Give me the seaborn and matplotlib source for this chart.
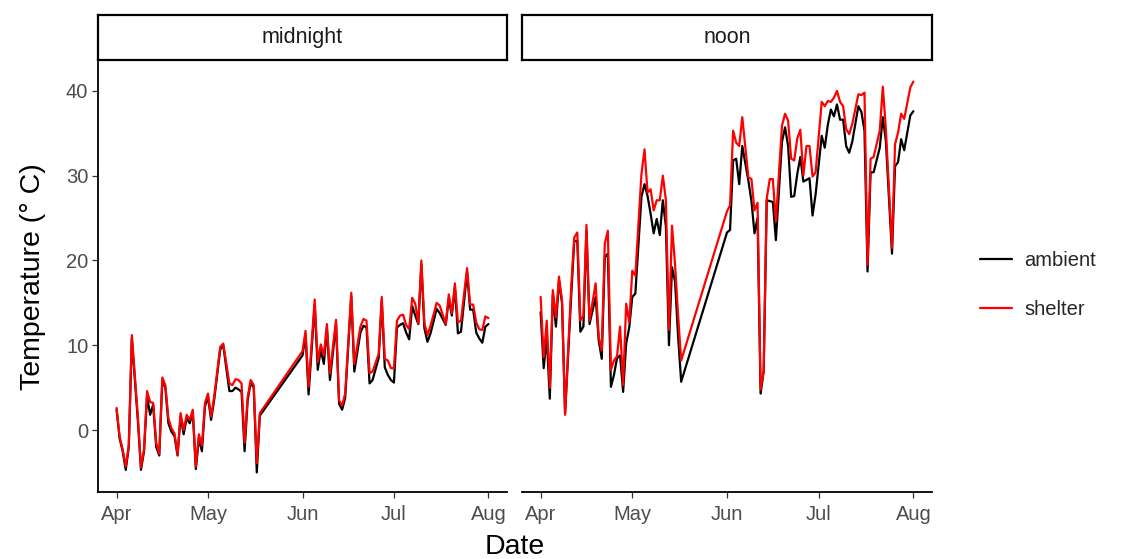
import numpy as np
import pandas as pd
import matplotlib
matplotlib.use("Agg")
import matplotlib.pyplot as plt
import seaborn as sns
from matplotlib.lines import Line2D

# ---------------- data (day offsets from 1 April) ----------------
mid_days = ([0, 1, 2, 3, 4, 5] + list(range(7, 33)) + [34, 35] + list(range(37, 48))
            + [61, 62, 63] + list(range(65, 71)) + [72, 73, 74, 75] + [77, 78]
            + list(range(80, 85)) + list(range(86, 107)) + list(range(108, 114))
            + list(range(115, 123)))
mid_ambient = [2.4, -1.0, -2.5, -4.7, -2.0, 10.8,
               1.0, -4.7, -2.5, 4.0, 1.8, 3.0, -2.0, -3.0, 5.8, 5.0, 0.8, -0.2, -0.7, -3.0,
               1.6, -0.5, 1.4, 0.8, 2.1, -4.6, -1.0, -2.5, 2.8, 3.9, 1.2, 3.5,
               9.5, 10.0,
               4.6, 4.6, 5.0, 4.8, 4.5, -2.5, 3.5, 5.6, 5.0, -5.0, 1.7,
               8.8, 11.2, 4.2,
               14.8, 7.1, 9.5, 7.8, 12.0, 5.9,
               12.5, 3.1, 2.4, 3.8,
               15.8, 6.9,
               11.5, 12.3, 12.1, 5.5, 5.9,
               8.5, 15.2, 7.4, 6.5, 5.9, 5.6, 12.1, 12.4, 12.6, 11.5, 10.7, 14.6, 13.5, 12.5,
               19.5, 12.0, 10.4, 11.4, 12.8, 14.3, 13.8,
               12.4, 15.5, 13.5, 16.8, 11.4, 11.6,
               18.6, 14.2, 14.2, 11.5, 10.8, 10.3, 12.2, 12.5]
mid_shelter = [2.6, -0.8, -2.3, -4.3, -1.8, 11.2,
               1.5, -4.4, -2.3, 4.6, 3.3, 3.2, -1.5, -2.8, 6.2, 5.3, 1.4, 0.2, -0.4, -2.9,
               2.0, 0.0, 1.8, 1.2, 2.4, -4.3, -0.5, -1.8, 3.2, 4.3, 1.6, 3.9,
               9.8, 10.2,
               5.5, 5.3, 6.0, 5.9, 5.5, -1.5, 3.9, 5.9, 5.3, -3.9, 2.0,
               9.3, 11.7, 5.1,
               15.4, 8.0, 10.1, 8.8, 12.5, 6.7,
               13.0, 3.5, 2.9, 4.3,
               16.2, 7.8,
               12.2, 13.1, 12.9, 6.7, 6.9,
               9.0, 15.7, 8.4, 8.2, 7.3, 7.3, 12.9, 13.5, 13.6, 12.4, 11.9, 15.6, 14.9, 12.6,
               20.0, 12.6, 11.2, 12.3, 13.6, 15.0, 14.7,
               12.5, 16.0, 13.8, 17.3, 12.7, 12.9,
               19.1, 14.8, 14.8, 12.7, 11.9, 11.8, 13.4, 13.2]

noon_days = (list(range(0, 9)) + list(range(10, 17)) + list(range(18, 32))
             + list(range(33, 47)) + list(range(61, 67)) + list(range(68, 78))
             + list(range(79, 91)) + list(range(92, 103)) + list(range(104, 110))
             + [111, 112, 113] + list(range(115, 120)) + [121, 122])
noon_ambient = [13.9, 7.3, 11.0, 3.7, 16.0, 12.2, 17.6, 15.0, 2.0,
                15.8, 22.3, 22.3, 11.6, 12.2, 23.5, 12.5,
                15.7, 10.6, 8.4, 20.4, 20.8, 5.1, 6.5, 8.5, 8.8, 4.5, 10.2, 12.1, 15.7, 16.1,
                27.5, 29.0, 27.6, 25.5, 23.2, 24.9, 23.0, 27.1, 24.0, 10.0, 19.2, 17.5, 11.0, 5.7,
                23.3, 23.6, 31.8, 32.0, 29.0, 33.5,
                29.4, 27.0, 23.2, 25.0, 4.3, 6.9, 27.1, 27.0, 26.9, 22.4,
                34.0, 35.7, 33.5, 27.5, 27.6, 30.2, 32.2, 29.3, 29.5, 29.7, 25.3, 27.8,
                34.7, 33.3, 36.0, 37.8, 37.0, 38.4, 36.6, 36.6, 33.5, 32.7, 34.0,
                38.2, 37.5, 35.3, 18.7, 30.4, 30.4,
                33.3, 36.9, 34.1,
                20.8, 31.1, 31.6, 34.3, 33.0,
                37.1, 37.6]
noon_shelter = [15.7, 8.6, 12.9, 5.0, 16.5, 13.3, 18.1, 15.3, 1.8,
                16.9, 22.7, 23.3, 12.9, 13.5, 24.2, 12.9,
                17.3, 11.0, 9.4, 22.0, 23.5, 7.1, 8.2, 8.7, 12.2, 5.3, 14.9, 12.7, 18.8, 18.2,
                30.2, 33.1, 28.0, 28.4, 25.9, 27.1, 27.1, 30.0, 27.1, 11.8, 24.1, 19.5, 13.5, 8.2,
                25.8, 26.5, 35.3, 33.9, 33.5, 36.9,
                29.8, 29.6, 25.9, 26.8, 4.8, 7.0, 27.3, 29.6, 29.6, 24.6,
                35.9, 37.3, 36.5, 32.0, 31.8, 34.4, 35.4, 30.0, 33.5, 33.5, 29.9, 30.4,
                38.7, 38.2, 38.8, 38.7, 39.2, 40.0, 38.7, 38.2, 35.5, 34.9, 36.1,
                39.6, 39.5, 39.8, 19.5, 32.0, 32.2,
                35.3, 40.5, 35.5,
                21.5, 33.7, 35.1, 37.3, 36.7,
                40.4, 41.1]

panels = ["midnight", "noon"]
treatments = ["ambient", "shelter"]
month_ticks = ["2019-04-01", "2019-05-01", "2019-06-01", "2019-07-01", "2019-08-01"]
month_labels = ["Apr", "May", "Jun", "Jul", "Aug"]
y_ticks = [0, 10, 20, 30, 40]

# ---------------- build long table ----------------
start = pd.Timestamp("2019-04-01")
rows = []
for panel, days, amb, shel in [("midnight", mid_days, mid_ambient, mid_shelter),
                               ("noon", noon_days, noon_ambient, noon_shelter)]:
    assert len(days) == len(amb) == len(shel)
    for d, a, s in zip(days, amb, shel):
        rows.append((panel, start + pd.Timedelta(days=d), "ambient", a))
        rows.append((panel, start + pd.Timedelta(days=d), "shelter", s))
df = pd.DataFrame(rows, columns=["time", "Date", "treatment", "temp"])

# ---------------- style ----------------
sns.set_style("white")
plt.rcParams["font.family"] = ["Liberation Sans", "DejaVu Sans"]
palette = {"ambient": "black", "shelter": "#FF0000"}

W, H = 1124, 559
fig = plt.figure(figsize=(W / 100, H / 100), dpi=100)

def fx(px):
    return px / W

def fy(px):
    return 1 - px / H

panel_x = [(98, 507), (522, 932)]
top_px, bot_px = 62, 492
strip_top, strip_bot = 15, 60

ymin, ymax = df["temp"].min(), df["temp"].max()
yr = ymax - ymin
ylim = (ymin - 0.05 * yr, ymax + 0.05 * yr)
xmin, xmax = df["Date"].min(), df["Date"].max()
xr = xmax - xmin
xlim = (xmin - 0.05 * xr, xmax + 0.05 * xr)

tick_color = "#333333"
label_color = "#4D4D4D"
tick_fs = 14.5

for i, panel in enumerate(panels):
    x0, x1 = panel_x[i]
    ax = fig.add_axes([fx(x0), fy(bot_px), fx(x1 - x0), (bot_px - top_px) / H])
    sub = df[df["time"] == panel]
    sns.lineplot(data=sub, x="Date", y="temp", hue="treatment", hue_order=treatments,
                 palette=palette, estimator=None, linewidth=1.6, legend=False, ax=ax)
    ax.set_xlim(xlim)
    ax.set_ylim(ylim)
    ax.set_xticks(pd.to_datetime(month_ticks))
    ax.set_xticklabels(month_labels)
    ax.set_xlabel("")
    ax.set_ylabel("")
    ax.set_facecolor("white")
    for s in ["top", "right"]:
        ax.spines[s].set_visible(False)
    ax.spines["bottom"].set_linewidth(1.3)
    ax.spines["bottom"].set_color("black")
    ax.tick_params(axis="x", length=4, width=0.9, color=tick_color,
                   labelsize=tick_fs, labelcolor=label_color, pad=5, bottom=True)
    if i == 0:
        ax.set_yticks(y_ticks)
        ax.spines["left"].set_linewidth(1.3)
        ax.spines["left"].set_color("black")
        ax.tick_params(axis="y", length=4, width=0.9, color=tick_color,
                       labelsize=tick_fs, labelcolor=label_color, pad=3, left=True)
    else:
        ax.spines["left"].set_visible(False)
        ax.set_yticks(y_ticks)
        ax.tick_params(axis="y", left=False, labelleft=False)
    ax.grid(False)

    # strip
    sax = fig.add_axes([fx(x0), fy(strip_bot), fx(x1 - x0), (strip_bot - strip_top) / H])
    sax.set_xticks([])
    sax.set_yticks([])
    sax.set_facecolor("white")
    for s in sax.spines.values():
        s.set_linewidth(1.6)
        s.set_color("black")
        s.set_visible(True)
    sax.text(0.5, 0.5, panel, ha="center", va="center", fontsize=15.5,
             color="#1A1A1A", transform=sax.transAxes)

fig.text(fx(515), fy(547), "Date", ha="center", va="center", fontsize=20.5, color="black")
fig.text(fx(33), fy(277), "Temperature (° C)", ha="center", va="center",
         rotation=90, fontsize=20.5, color="black")

handles = [Line2D([0], [0], color=palette[t], linewidth=1.6) for t in treatments]
fig.legend(handles, treatments, loc="center left", bbox_to_anchor=(fx(962), fy(285)),
           frameon=False, fontsize=14.5, handlelength=1.6, handletextpad=0.6,
           labelspacing=1.45)

fig.savefig("out.png", dpi=100, facecolor="white")
